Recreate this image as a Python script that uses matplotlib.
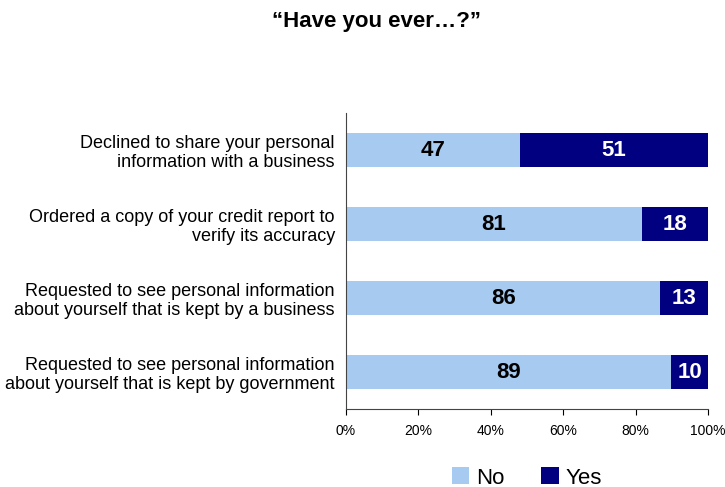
import matplotlib
matplotlib.use("Agg")
import matplotlib.pyplot as plt
from matplotlib.ticker import PercentFormatter

# data
categories = [
    "Declined to share your personal\ninformation with a business",
    "Ordered a copy of your credit report to\nverify its accuracy",
    "Requested to see personal information\nabout yourself that is kept by a business",
    "Requested to see personal information\nabout yourself that is kept by government",
]
no_vals = [47, 81, 86, 89]
yes_vals = [51, 18, 13, 10]

c_no = "#A6CAF0"
c_yes = "#000080"

plt.rcParams["font.family"] = ["Liberation Sans", "DejaVu Sans"]

fig = plt.figure(figsize=(7.25, 4.87), dpi=100)
ax = fig.add_axes([346 / 725, 1 - 409 / 487, 362 / 725, 296 / 487])

# 100% stacked: shares of each row total
totals = [n + y for n, y in zip(no_vals, yes_vals)]
no_pct = [n / t * 100 for n, t in zip(no_vals, totals)]
yes_pct = [y / t * 100 for y, t in zip(yes_vals, totals)]

ypos = list(range(len(categories)))
b1 = ax.barh(ypos, no_pct, height=0.46, color=c_no, label="No")
b2 = ax.barh(ypos, yes_pct, left=no_pct, height=0.46, color=c_yes, label="Yes")

for i in ypos:
    ax.text(no_pct[i] / 2, i, str(no_vals[i]), ha="center", va="center",
            fontsize=16, fontweight="bold", color="black")
    ax.text(no_pct[i] + yes_pct[i] / 2, i, str(yes_vals[i]), ha="center", va="center",
            fontsize=16, fontweight="bold", color="white")

ax.set_xlim(0, 100)
ax.set_ylim(3.5, -0.5)
ax.set_yticks(ypos)
ax.set_yticklabels(categories, fontsize=13, ha="right", linespacing=1.15)
ax.tick_params(axis="y", length=0, pad=8)
ax.set_xticks([0, 20, 40, 60, 80, 100])
ax.xaxis.set_major_formatter(PercentFormatter(decimals=0))
ax.tick_params(axis="x", direction="out", length=4, labelsize=10, pad=7)
# keep the 100% label inside the figure edge
ax.get_xticklabels()[-1].set_horizontalalignment("center")

for s in ["top", "right"]:
    ax.spines[s].set_visible(False)
ax.spines["left"].set_color("#444444")
ax.spines["bottom"].set_color("#444444")

fig.text(376 / 725, 1 - 21 / 487, "\u201cHave you ever\u2026?\u201d", ha="center", va="center",
         fontsize=16, fontweight="bold")

fig.legend(handles=[b1, b2], loc="center", bbox_to_anchor=(527 / 725, 1 - 478 / 487),
           ncol=2, frameon=False, fontsize=16, handlelength=0.77, handleheight=0.77,
           handletextpad=0.31, columnspacing=1.66, borderpad=0)

fig.savefig("out.png", dpi=100)
